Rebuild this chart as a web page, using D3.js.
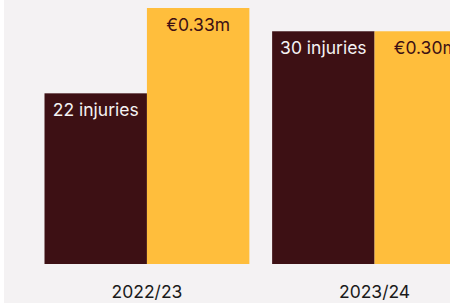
<!DOCTYPE html>
<html>
<head>
<meta charset="utf-8">
<script src="https://cdn.jsdelivr.net/npm/d3@7"></script>
<style>
  html, body { margin: 0; padding: 0; background: #ffffff; }
  svg { display: block; }
</style>
</head>
<body>
<svg id="chart" width="450" height="303"></svg>
<script>
const seasons = ["2022/23", "2023/24"];
const injuries = [22, 30];
const costs = [0.33, 0.30];
const injuryLabels = ["22 injuries", "30 injuries"];
const costLabels = ["€0.33m", "€0.30m"];
const seriesKeys = ["injuries", "cost"];

const W = 450, H = 303;
const svg = d3.select("#chart");
const FONT = "Inter, 'Liberation Sans', Arial, sans-serif";

svg.append("rect").attr("x", 4).attr("y", 0).attr("width", W - 4).attr("height", H).attr("fill", "#f4f2f3");

const baseY = 264, topY = 8;
const x0 = d3.scaleBand().domain(seasons).range([44.5, 477]).paddingInner(0.1);
const x1 = d3.scaleBand().domain(seriesKeys).range([0, x0.bandwidth()]).padding(0);
// injuries and cost (in €10k units) share one scale
const y = d3.scaleLinear().domain([0, 33]).range([baseY, topY]);

const rows = seasons.map((s, i) => ({
  season: s,
  bars: [
    { key: "injuries", v: injuries[i], label: injuryLabels[i], fill: "#3d1014", text: "#f4f2f3" },
    { key: "cost", v: costs[i] * 100, label: costLabels[i], fill: "#ffbe3c", text: "#3d1014" }
  ]
}));

const g = svg.selectAll("g.grp").data(rows).join("g")
  .attr("class", "grp")
  .attr("transform", d => `translate(${x0(d.season)},0)`);

g.selectAll("rect").data(d => d.bars).join("rect")
  .attr("x", d => x1(d.key))
  .attr("y", d => y(d.v))
  .attr("width", x1.bandwidth())
  .attr("height", d => baseY - y(d.v))
  .attr("fill", d => d.fill);

g.selectAll("text.lbl").data(d => d.bars).join("text")
  .attr("class", "lbl")
  .attr("x", d => x1(d.key) + x1.bandwidth() / 2)
  .attr("y", d => y(d.v) + 22.5)
  .attr("text-anchor", "middle")
  .attr("font-family", FONT)
  .attr("font-size", 17.5)
  .attr("fill", d => d.text)
  .text(d => d.label);

const axis = d3.axisBottom(x0).tickSize(0).tickPadding(0);
const ax = svg.append("g").attr("transform", `translate(0,${baseY})`).call(axis);
ax.select(".domain").remove();
ax.selectAll("text")
  .attr("font-family", FONT)
  .attr("font-size", 17.5)
  .attr("fill", "#1a1a1a")
  .attr("dy", null)
  .attr("y", 33.5);
</script>
</body>
</html>
